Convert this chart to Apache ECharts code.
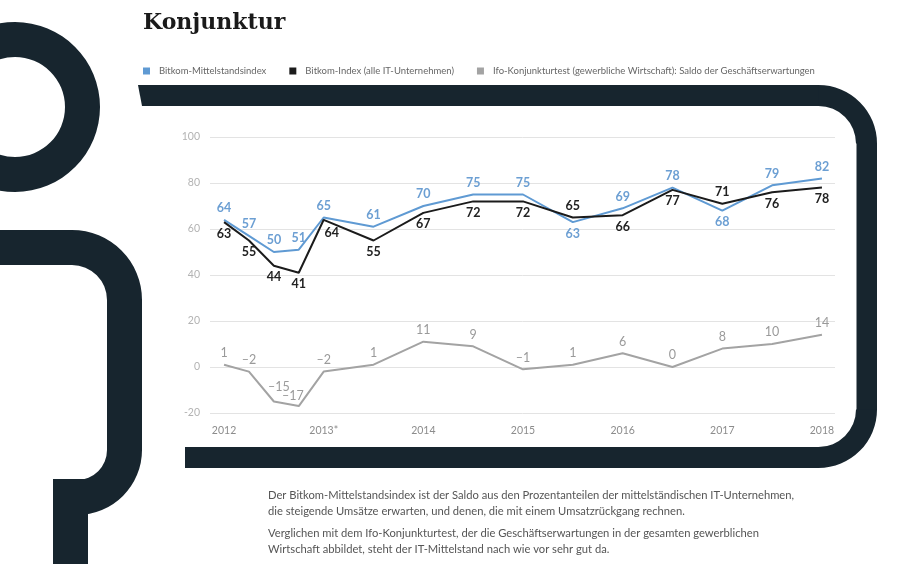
<!DOCTYPE html>
<html><head><meta charset="utf-8">
<script src="https://cdn.jsdelivr.net/npm/echarts@6/dist/echarts.min.js"></script>
<style>html,body{margin:0;padding:0;background:#fff}#c{width:900px;height:564px}</style>
</head><body><div id="c"></div>
<script>
// ---- data ----
const periods = [2012, 2012.25, 2012.5, 2012.75, 2013, 2013.5, 2014, 2014.5, 2015, 2015.5, 2016, 2016.5, 2017, 2017.5, 2018];
const yearTicks = [2012, 2013, 2014, 2015, 2016, 2017, 2018];
const yearLabels = ['2012', '2013*', '2014', '2015', '2016', '2017', '2018'];
const mittelstandsindex = [64, 57, 50, 51, 65, 61, 70, 75, 75, 63, 69, 78, 68, 79, 82];
const bitkomIndex = [63, 55, 44, 41, 64, 55, 67, 72, 72, 65, 66, 77, 71, 76, 78];
const ifoSaldo = [1, -2, -15, -17, -2, 1, 11, 9, -1, 1, 6, 0, 8, 10, 14];
const seriesNames = ['Bitkom-Mittelstandsindex', 'Bitkom-Index (alle IT-Unternehmen)', 'Ifo-Konjunkturtest (gewerbliche Wirtschaft): Saldo der Geschäftserwartungen'];

// ---- styling ----
const BLUE = '#5f9ad3', BLACK = '#1b1b1b', GRAY = '#a3a3a3', DARK = '#17252e';
const blueBelow = [9, 12];
const blackAbove = [9, 12];
const labelOffsets = { 'b4': [8, 2], 'g2': [5, -3], 'g3': [-6, 1] };

function fmt(p) { return String(p.value[1]).replace('-', '\u2013'); }
function build(values, key, defPos, flipIdx, flipPos) {
  return values.map((v, i) => {
    const lab = { position: flipIdx.indexOf(i) >= 0 ? flipPos : defPos };
    if (labelOffsets[key + i]) lab.offset = labelOffsets[key + i];
    return { value: [periods[i], v], label: lab };
  });
}
function lineSeries(name, data, color, labelColor, bold) {
  return {
    name, type: 'line', data, symbol: 'circle', symbolSize: 0.1, showSymbol: true,
    itemStyle: { color }, lineStyle: { color, width: 2 },
    label: { show: true, formatter: fmt, color: labelColor, fontFamily: 'Lato', fontSize: 12.5, fontWeight: bold ? 'bold' : 'normal' },
    emphasis: { disabled: true }, animation: false
  };
}

const chart = echarts.init(document.getElementById('c'), null, { renderer: 'canvas' });
const bodyFont = 'Lato';
chart.setOption({
  animation: false,
  title: { text: 'Konjunktur', left: 138, top: 7, textStyle: { fontFamily: 'DejaVu Serif', fontWeight: 'bold', fontSize: 22, color: '#1a1a1a' } },
  legend: {
    left: 138, top: 61, icon: 'rect', itemWidth: 7, itemHeight: 7, itemGap: 23,
    textStyle: { fontFamily: bodyFont, fontSize: 9.5, color: '#666', padding: [0, 0, 0, 4] },
    data: seriesNames
  },
  grid: { left: 210, right: 65, top: 137, bottom: 151 },
  xAxis: {
    type: 'value', min: 2011.859, max: 2018.131,
    axisLine: { show: false }, axisTick: { show: false }, splitLine: { show: false },
    axisLabel: { customValues: yearTicks, formatter: v => yearLabels[yearTicks.indexOf(v)] || '', color: '#8c8c8c', fontFamily: bodyFont, fontSize: 10.5, margin: 12 }
  },
  yAxis: {
    type: 'value', min: -20, max: 100, interval: 20,
    axisLine: { show: false }, axisTick: { show: false },
    splitLine: { lineStyle: { color: '#e3e3e3', width: 1 } },
    axisLabel: { color: '#b3b3b3', fontFamily: bodyFont, fontSize: 10.5, margin: 10 }
  },
  series: [
    lineSeries(seriesNames[0], build(mittelstandsindex, 'm', 'top', blueBelow, 'bottom'), BLUE, '#6c9fd3', true),
    lineSeries(seriesNames[1], build(bitkomIndex, 'b', 'bottom', blackAbove, 'top'), BLACK, '#222', true),
    lineSeries(seriesNames[2], build(ifoSaldo, 'g', 'top', [], 'top'), GRAY, '#9a9a9a', false)
  ],
  graphic: [
    { type: 'ring', shape: { cx: 15, cy: 107, r: 85, r0: 50 }, style: { fill: DARK }, z: -1 },
    { type: 'rect', shape: { x: 0, y: 230, width: 72, height: 35 }, style: { fill: DARK }, z: -1 },
    { type: 'sector', shape: { cx: 72, cy: 300, r: 70, r0: 35, startAngle: -Math.PI / 2, endAngle: 0, clockwise: true }, style: { fill: DARK }, z: -1 },
    { type: 'rect', shape: { x: 107, y: 299, width: 35, height: 152 }, style: { fill: DARK }, z: -1 },
    { type: 'sector', shape: { cx: 77, cy: 450, r: 65, r0: 30, startAngle: 0, endAngle: Math.PI / 2, clockwise: true }, style: { fill: DARK }, z: -1 },
    { type: 'rect', shape: { x: 53, y: 479, width: 35, height: 85 }, style: { fill: DARK }, z: -1 },
    { type: 'polygon', shape: { points: [[138, 85], [819, 85], [819, 106], [142, 106]] }, style: { fill: DARK }, z: -1 },
    { type: 'sector', shape: { cx: 818.5, cy: 143.5, r: 58.5, r0: 37.5, startAngle: -Math.PI / 2, endAngle: 0, clockwise: true }, style: { fill: DARK }, z: -1 },
    { type: 'rect', shape: { x: 856.5, y: 143, width: 20.5, height: 267 }, style: { fill: DARK }, z: -1 },
    { type: 'sector', shape: { cx: 818.5, cy: 409.5, r: 58.5, r0: 37.5, startAngle: 0, endAngle: Math.PI / 2, clockwise: true }, style: { fill: DARK }, z: -1 },
    { type: 'rect', shape: { x: 185, y: 447, width: 634, height: 21 }, style: { fill: DARK }, z: -1 },
    { type: 'text', left: 268, top: 487, style: { text: 'Der Bitkom-Mittelstandsindex ist der Saldo aus den Prozentanteilen der mittelständischen IT-Unternehmen,\ndie steigende Umsätze erwarten, und denen, die mit einem Umsatzrückgang rechnen.', fontFamily: bodyFont, fontSize: 11.2, lineHeight: 16, fill: '#555' } },
    { type: 'text', left: 268, top: 525, style: { text: 'Verglichen mit dem Ifo-Konjunkturtest, der die Geschäftserwartungen in der gesamten gewerblichen\nWirtschaft abbildet, steht der IT-Mittelstand nach wie vor sehr gut da.', fontFamily: bodyFont, fontSize: 11.2, lineHeight: 16, fill: '#555' } }
  ]
});
</script>
</body></html>
